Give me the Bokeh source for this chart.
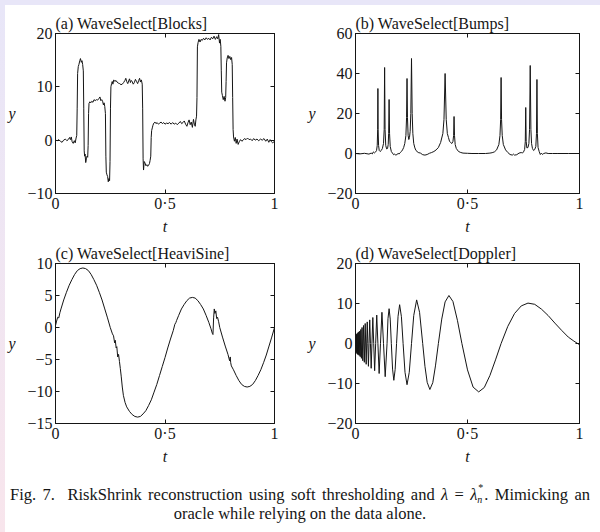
from bokeh.plotting import figure
from bokeh.models import Range1d, LinearAxis, FixedTicker, Div, CustomLabelingPolicy
from bokeh.layouts import column, row
from bokeh.embed import file_html
from bokeh.resources import INLINE

# ---------------- data ----------------
titles = ["(a) WaveSelect[Blocks]", "(b) WaveSelect[Bumps]",
          "(c) WaveSelect[HeaviSine]", "(d) WaveSelect[Doppler]"]
x_ticks = [0, 0.5, 1]
x_tick_labels = ["0", "0·5", "1"]
y_ticks_a = [-10, 0, 10, 20]
y_ticks_b = [-20, 0, 20, 40, 60]
y_ticks_c = [-15, -10, -5, 0, 5, 10]
y_ticks_d = [-20, -10, 0, 10, 20]

blocks_t = [0.000, 0.008, 0.015, 0.022, 0.030, 0.037, 0.045, 0.052, 0.058, 0.064, 0.068, 0.072,
            0.076, 0.081, 0.086, 0.090, 0.094, 0.097, 0.099, 0.101, 0.104, 0.107, 0.111, 0.114,
            0.118, 0.121, 0.124, 0.127, 0.129, 0.131, 0.133, 0.135, 0.138, 0.141, 0.144, 0.147,
            0.149, 0.151, 0.153, 0.157, 0.161, 0.166, 0.171, 0.176, 0.181, 0.187, 0.192, 0.198,
            0.203, 0.207, 0.211, 0.215, 0.219, 0.222, 0.225, 0.228, 0.230, 0.232, 0.235, 0.238,
            0.241, 0.244, 0.247, 0.249, 0.251, 0.253, 0.256, 0.259, 0.262, 0.266, 0.271, 0.276,
            0.281, 0.287, 0.293, 0.299, 0.305, 0.311, 0.317, 0.321, 0.325, 0.330, 0.334, 0.338,
            0.342, 0.346, 0.350, 0.355, 0.360, 0.365, 0.370, 0.375, 0.380, 0.384, 0.388, 0.392,
            0.396, 0.398, 0.400, 0.402, 0.405, 0.409, 0.413, 0.417, 0.421, 0.425, 0.429, 0.432,
            0.435, 0.437, 0.439, 0.442, 0.445, 0.449, 0.454, 0.459, 0.464, 0.470, 0.476, 0.482,
            0.488, 0.494, 0.500, 0.507, 0.514, 0.521, 0.528, 0.535, 0.542, 0.549, 0.556, 0.563,
            0.570, 0.576, 0.582, 0.588, 0.594, 0.600, 0.605, 0.610, 0.615, 0.620, 0.625, 0.630,
            0.634, 0.638, 0.641, 0.644, 0.646, 0.648, 0.651, 0.655, 0.660, 0.665, 0.670, 0.676,
            0.682, 0.688, 0.694, 0.700, 0.706, 0.712, 0.718, 0.724, 0.730, 0.736, 0.741, 0.745,
            0.749, 0.752, 0.755, 0.757, 0.759, 0.762, 0.766, 0.770, 0.774, 0.777, 0.779, 0.781,
            0.784, 0.788, 0.792, 0.796, 0.800, 0.804, 0.807, 0.809, 0.811, 0.813, 0.817, 0.821,
            0.825, 0.829, 0.834, 0.839, 0.845, 0.851, 0.857, 0.863, 0.870, 0.877, 0.884, 0.891,
            0.898, 0.905, 0.912, 0.920, 0.928, 0.936, 0.944, 0.952, 0.960, 0.967, 0.974, 0.980,
            0.986, 0.992, 1.000]
blocks_y = [0.0, -0.1, 0.1, -0.2, -0.4, 0.0, 0.2, -0.1, 0.1, 0.5, 0.1, 0.6,
            -0.3, -0.6, -0.1, -0.5, 0.4, 0.9, 6.0, 12.5, 13.8, 14.2, 14.9, 15.3,
            14.6, 14.9, 14.2, 13.0, 6.0, -2.0, -3.0, -2.6, -4.2, -3.5, -3.0, -3.2,
            -1.0, 5.0, 6.9, 7.2, 7.0, 7.3, 7.1, 7.6, 7.4, 7.6, 7.5, 7.8,
            8.1, 7.4, 7.6, 7.3, 6.6, 7.0, 6.3, 5.0, -3.0, -6.0, -6.5, -6.8,
            -7.8, -7.2, -7.6, -4.0, 6.0, 10.0, 10.6, 11.0, 10.5, 11.3, 11.0, 11.2,
            10.9, 10.7, 10.6, 10.4, 10.5, 10.8, 11.2, 11.6, 11.0, 10.6, 11.1, 11.5,
            10.8, 11.2, 11.0, 10.5, 10.8, 11.4, 11.0, 10.6, 11.2, 11.6, 10.9, 11.3,
            10.5, 6.0, -3.5, -5.6, -4.0, -4.3, -4.8, -4.6, -4.9, -4.7, -4.4, -3.8,
            -3.0, 0.5, 1.8, 2.3, 2.8, 3.2, 3.4, 3.1, 3.3, 3.0, 3.2, 3.4,
            3.1, 3.3, 3.0, 3.2, 3.1, 3.3, 3.0, 3.3, 3.0, 3.2, 2.9, 3.2,
            3.5, 3.1, 3.3, 3.6, 3.0, 2.6, 3.3, 3.8, 2.9, 3.4, 2.4, 3.9,
            3.0, 2.6, 3.8, 4.5, 8.0, 17.5, 18.3, 18.9, 18.4, 18.9, 18.7, 19.1,
            18.8, 19.2, 18.9, 19.1, 18.8, 19.3, 19.0, 19.5, 18.9, 19.4, 19.0, 19.8,
            18.2, 18.9, 17.6, 13.0, 9.0, 8.4, 7.6, 8.2, 7.3, 8.0, 11.0, 14.5,
            15.4, 15.9, 15.3, 15.7, 15.1, 15.5, 14.2, 8.0, 2.0, 0.6, -0.2, 0.5,
            -0.6, 0.2, -0.8, -0.3, 0.1, -0.2, 0.0, 0.3, 0.1, 0.4, 0.1, 0.2,
            -0.1, 0.3, 0.0, 0.2, -0.1, 0.2, 0.0, 0.3, -0.2, 0.2, -0.4, 0.1,
            -0.3, -0.5, -0.2]

bumps_t = [0.000, 0.020, 0.040, 0.060, 0.070, 0.075, 0.080, 0.085, 0.090, 0.094, 0.097, 0.099,
           0.100, 0.101, 0.103, 0.106, 0.110, 0.115, 0.120, 0.125, 0.128, 0.130, 0.132, 0.135,
           0.139, 0.143, 0.146, 0.148, 0.150, 0.152, 0.155, 0.160, 0.165, 0.170, 0.175, 0.180,
           0.185, 0.190, 0.195, 0.200, 0.205, 0.210, 0.215, 0.220, 0.225, 0.228, 0.230, 0.232,
           0.235, 0.238, 0.241, 0.244, 0.247, 0.250, 0.253, 0.256, 0.260, 0.265, 0.270, 0.280,
           0.290, 0.300, 0.310, 0.320, 0.330, 0.340, 0.350, 0.360, 0.370, 0.380, 0.390, 0.395,
           0.400, 0.405, 0.410, 0.415, 0.420, 0.425, 0.430, 0.435, 0.438, 0.440, 0.442, 0.445,
           0.450, 0.460, 0.470, 0.480, 0.500, 0.520, 0.550, 0.580, 0.600, 0.610, 0.620, 0.630,
           0.640, 0.645, 0.648, 0.650, 0.652, 0.655, 0.660, 0.670, 0.680, 0.690, 0.700, 0.705,
           0.710, 0.720, 0.730, 0.740, 0.745, 0.750, 0.755, 0.758, 0.760, 0.762, 0.765, 0.770,
           0.774, 0.777, 0.780, 0.783, 0.786, 0.790, 0.795, 0.800, 0.805, 0.808, 0.810, 0.812,
           0.815, 0.820, 0.825, 0.830, 0.835, 0.840, 0.850, 0.860, 0.880, 0.900, 0.950, 1.000]
bumps_y = [0.0, -0.2, 0.1, -0.3, 0.2, -0.2, 0.8, 0.3, 0.8, 1.5, 4.0, 12.0,
           32.5, 12.0, 4.0, 1.5, 1.0, 1.5, 2.5, 5.0, 12.0, 43.0, 12.0, 4.0,
           2.3, 2.5, 4.5, 10.0, 27.0, 10.0, 3.5, 1.0, 0.2, -0.6, -0.3, -0.8,
           -0.5, 0.0, -0.2, 0.5, 1.0, 1.8, 3.0, 5.0, 9.0, 18.0, 37.5, 18.0,
           9.0, 7.0, 8.0, 11.0, 20.0, 47.5, 20.0, 10.0, 5.0, 2.8, 1.5, 0.5,
           0.2, -0.6, -0.8, -0.5, 0.1, 0.5, 1.0, 1.8, 3.0, 5.5, 10.0, 17.0,
           40.0, 17.0, 10.0, 8.0, 6.0, 5.5, 5.0, 6.0, 9.0, 18.5, 9.0, 4.5,
           2.5, 1.0, 0.5, 0.2, 0.1, 0.0, 0.0, 0.0, 0.2, 0.4, 0.8, 1.8,
           4.5, 9.0, 17.0, 38.0, 17.0, 9.0, 4.5, 1.8, 0.5, -0.5, -0.8, -0.3,
           -0.8, -0.6, 0.2, 0.5, 0.2, 0.8, 2.0, 6.0, 23.0, 6.0, 2.8, 3.0,
           5.0, 12.0, 44.0, 12.0, 5.0, 2.5, 1.5, 2.0, 3.5, 10.0, 37.0, 10.0,
           3.0, 1.0, -0.5, 0.2, -0.5, 0.0, 0.3, 0.0, 0.0, 0.0, 0.0, 0.0]

heavisine_t = [0.000, 0.005, 0.010, 0.015, 0.020, 0.025, 0.0375, 0.050, 0.0625, 0.075, 0.0875,
               0.100, 0.1125, 0.125, 0.1375, 0.150, 0.1625, 0.175, 0.1875, 0.200, 0.2125, 0.225,
               0.2375, 0.250, 0.260, 0.265, 0.270, 0.273, 0.277, 0.280, 0.284, 0.288, 0.292,
               0.296, 0.300, 0.305, 0.310, 0.3175, 0.325, 0.3375, 0.350, 0.3625, 0.375, 0.3875,
               0.400, 0.4125, 0.425, 0.4375, 0.450, 0.4625, 0.475, 0.4875, 0.500, 0.5125, 0.525,
               0.5375, 0.545, 0.550, 0.553, 0.5625, 0.575, 0.5875, 0.600, 0.6125, 0.625, 0.6375,
               0.650, 0.6625, 0.675, 0.6875, 0.700, 0.710, 0.716, 0.719, 0.722, 0.725, 0.728,
               0.732, 0.736, 0.740, 0.745, 0.750, 0.7625, 0.775, 0.7875, 0.795, 0.798, 0.800,
               0.803, 0.8125, 0.825, 0.8375, 0.850, 0.8625, 0.875, 0.8875, 0.900, 0.9125, 0.925,
               0.9375, 0.950, 0.9625, 0.975, 0.9875, 1.000]
heavisine_y = [0.3, 1.0, 1.6, 1.5, 2.3, 2.9, 4.3, 5.5, 6.6, 7.5, 8.3,
               8.9, 9.2, 9.3, 9.2, 8.9, 8.3, 7.5, 6.6, 5.5, 4.3, 2.9,
               1.5, 0.0, -1.0, -1.3, -2.4, -2.0, -3.2, -3.0, -4.6, -4.2, -5.3,
               -6.4, -7.6, -9.3, -10.6, -11.7, -12.4, -13.1, -13.6, -13.9, -14.0, -13.9,
               -13.5, -13.0, -12.2, -11.3, -10.1, -8.9, -7.5, -6.1, -4.7, -3.2, -1.8,
               -0.5, 0.5, 0.8, 1.1, 1.9, 2.9, 3.6, 4.2, 4.6, 4.7, 4.6,
               4.2, 3.6, 2.9, 1.9, 0.8, -0.2, -0.9, -1.1, 1.5, 2.9, 2.2,
               2.6, 1.4, 1.6, 0.9, 0.0, -1.5, -2.9, -4.2, -5.2, -4.6, -5.5,
               -6.0, -6.6, -7.5, -8.3, -8.9, -9.2, -9.3, -9.2, -8.9, -8.3, -7.5,
               -6.6, -5.5, -4.3, -2.9, -1.5, 0.0]

doppler_t = [0.000, 0.0006, 0.0019, 0.0032, 0.0046, 0.0060, 0.0075, 0.0092, 0.0109, 0.0127,
             0.0146, 0.0167, 0.0189, 0.0212, 0.0237, 0.0264, 0.0292, 0.0324, 0.0357, 0.0394,
             0.0433, 0.0477, 0.0524, 0.055, 0.0577, 0.0605, 0.0635, 0.0667, 0.070, 0.0735,
             0.0773, 0.0813, 0.0855, 0.090, 0.0948, 0.100, 0.1056, 0.1115, 0.118, 0.125,
             0.1326, 0.1409, 0.145, 0.150, 0.155, 0.160, 0.1655, 0.1711, 0.177, 0.1833,
             0.190, 0.197, 0.205, 0.2125, 0.221, 0.230, 0.240, 0.250, 0.260, 0.273, 0.286,
             0.300, 0.310, 0.320, 0.332, 0.345, 0.357, 0.370, 0.385, 0.400, 0.417, 0.435,
             0.455, 0.475, 0.500, 0.525, 0.550, 0.575, 0.600, 0.625, 0.650, 0.680, 0.710,
             0.740, 0.770, 0.800, 0.830, 0.860, 0.890, 0.920, 0.950, 0.975, 1.000]
doppler_y = [0.0, -1.0, 1.8, -2.2, 2.3, -2.5, 2.5, -2.7, 2.7, -2.8,
             2.9, -3.0, 3.1, -3.3, 3.5, -3.7, 4.0, -4.3, 4.5, -4.7,
             5.0, -5.2, 5.4, 0.0, -5.7, 0.0, 5.9, 0.0, -6.2, 0.0,
             6.5, 0.0, -6.8, 0.0, 7.1, 0.0, -7.5, 0.0, 7.8, 0.0,
             -8.3, 0.0, 6.2, 8.7, 6.1, 0.0, -6.4, -9.2, -6.5, 0.0,
             6.8, 9.7, 6.7, 0.0, -7.2, -10.3, -7.2, 0.0, 7.0, 10.9, 7.8,
             0.0, -5.7, -9.7, -11.5, -9.8, -5.6, 0.0, 6.1, 10.4, 12.0, 10.5,
             5.8, 0.0, -6.6, -10.9, -12.1, -11.0, -8.0, -4.1, 0.0, 4.3, 7.5,
             9.4, 10.1, 9.8, 8.6, 7.0, 5.1, 3.3, 1.6, 0.6, -0.3]

caption_line1 = "Fig. 7.\u00a0 RiskShrink reconstruction using soft thresholding and"
caption_line1_end = ". Mimicking an"
caption_line2 = "oracle while relying on the data alone."

# ---------------- styling ----------------
SERIF = "Liberation Serif"
INK = "#151515"
BAND_TOP = "#E8E6F8"
BAND_BOTTOM = "#F8E5EC"


def no_labels():
    return CustomLabelingPolicy(code="""
        for (const i of Array.from(indices)) { indices.unset(i) }
        return indices
    """)


def fmt(v):
    return ("%g" % v).replace("-", "\u2212")


def panel(title, t, y, yr, yticks, width, height, bl, br, bt, bb):
    p = figure(width=width, height=height, x_range=Range1d(0, 1), y_range=Range1d(*yr),
               output_backend="svg", toolbar_location=None, title=title,
               min_border_left=bl, min_border_right=br, min_border_top=bt, min_border_bottom=bb,
               x_axis_label="t", y_axis_label="y")
    p.line(t, y, line_color=INK, line_width=1)
    p.grid.visible = False
    p.outline_line_color = INK
    p.outline_line_width = 1
    p.background_fill_color = "white"
    p.border_fill_color = "white"
    p.title.align = "left"
    p.title.text_font = SERIF
    p.title.text_font_size = "16px"
    p.title.text_font_style = "normal"
    p.title.text_color = INK
    p.title.standoff = 4
    p.title.offset = 0

    xo = {float(v): lab for v, lab in zip(x_ticks, x_tick_labels)}
    yo = {float(v): fmt(v) for v in yticks}
    for ax in p.xaxis:
        ax.ticker = FixedTicker(ticks=x_ticks)
        ax.major_label_overrides = xo
    for ax in p.yaxis:
        ax.ticker = FixedTicker(ticks=yticks)
        ax.major_label_overrides = yo
        ax.axis_label_orientation = "horizontal"
        ax.axis_label_standoff = 9
    for ax in list(p.xaxis) + list(p.yaxis):
        ax.axis_line_color = INK
        ax.major_tick_line_color = INK
        ax.major_tick_in = 4
        ax.major_tick_out = 0
        ax.minor_tick_line_color = None
        ax.major_label_text_font = SERIF
        ax.major_label_text_font_size = "16px"
        ax.major_label_text_color = INK
        ax.major_label_standoff = 3
        ax.axis_label_text_font = SERIF
        ax.axis_label_text_font_size = "16px"
        ax.axis_label_text_font_style = "italic"
        ax.axis_label_text_color = INK
    for ax in p.xaxis:
        ax.major_label_standoff = 1
        ax.axis_label_standoff = 3

    top = LinearAxis(ticker=FixedTicker(ticks=x_ticks), major_label_policy=no_labels(),
                     major_label_text_font_size="0px",
                     major_tick_in=4, major_tick_out=0, minor_tick_line_color=None,
                     major_label_standoff=0, axis_line_color=INK, major_tick_line_color=INK)
    right = LinearAxis(ticker=FixedTicker(ticks=yticks), major_label_policy=no_labels(),
                       major_label_text_font_size="0px",
                       major_tick_in=4, major_tick_out=0, minor_tick_line_color=None,
                       major_label_standoff=0, axis_line_color=INK, major_tick_line_color=INK)
    p.add_layout(top, "above")
    p.add_layout(right, "right")
    return p


pa = panel(titles[0], blocks_t, blocks_y, (-10, 20), y_ticks_a, 295, 235, 46, 26, 28, 47)
pb = panel(titles[1], bumps_t, bumps_y, (-20, 60), y_ticks_b, 300, 235, 55, 21, 28, 47)
pc = panel(titles[2], heavisine_t, heavisine_y, (-15, 10), y_ticks_c, 295, 240, 46, 26, 23, 57)
pd = panel(titles[3], doppler_t, doppler_y, (-20, 20), y_ticks_d, 300, 240, 55, 21, 23, 57)

lam = ('<i>λ</i> = <i>λ</i><span style="position:relative;display:inline-block;width:7px;height:10px;">'
       '<span style="position:absolute;left:1px;top:-7px;font-size:10px;line-height:10px;">*</span>'
       '<span style="position:absolute;left:0;top:5px;font-size:10px;line-height:10px;"><i>n</i></span>'
       '</span>')
caption_html = (
    '<div style="font-family:\'Liberation Serif\';font-size:16.5px;line-height:18.5px;color:#151515;'
    'padding:6px 0 0 5px;width:585px;">'
    '<div style="text-align:justify;text-align-last:justify;white-space:nowrap;">'
    + caption_line1 + ' ' + lam + caption_line1_end + '</div>'
    '<div style="text-align:center;">' + caption_line2 + '</div></div>'
)
caption = Div(text=caption_html, width=595, height=52,
              styles={"background-color": "white", "margin": "0", "padding": "0"})

top_band = Div(text="", width=600, height=5,
               styles={"background-color": BAND_TOP, "margin": "0", "padding": "0"})
left_band = Div(text="", width=5, height=527,
                styles={"background": "linear-gradient(%s, %s)" % (BAND_TOP, BAND_BOTTOM),
                        "margin": "0", "padding": "0"})

content = column(row(pa, pb, spacing=0), row(pc, pd, spacing=0), caption, spacing=0)
root = column(top_band, row(left_band, content, spacing=0), spacing=0)

open("out.html", "w").write(file_html(root, INLINE))
